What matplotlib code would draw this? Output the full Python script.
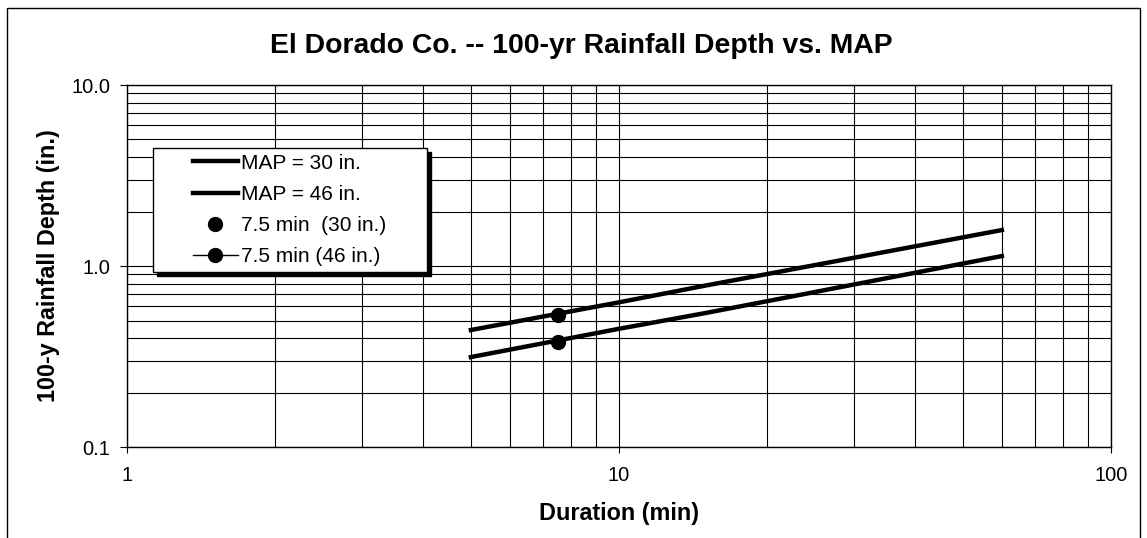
import matplotlib.pyplot as plt
from matplotlib.patches import Rectangle
from matplotlib.ticker import LogLocator, FixedLocator, NullFormatter

plt.rcParams['font.family'] = ['Liberation Sans', 'DejaVu Sans']

# data
duration = [5, 10, 15, 30, 60]
depth_30 = [0.314, 0.45, 0.55, 0.79, 1.135]
depth_46 = [0.443, 0.63, 0.78, 1.11, 1.58]
pt_dur = [7.5]
pt_30 = [0.38]
pt_46 = [0.536]

fig = plt.figure(figsize=(11.47, 5.38), dpi=100)
ax = fig.add_axes([0.1107, 0.1691, 0.8579, 0.6729])

ax.plot(duration, depth_30, color='black', lw=3.2, label='MAP = 30 in.')
ax.plot(duration, depth_46, color='black', lw=3.2, label='MAP = 46 in.')
ax.plot(pt_dur, pt_46, 'o', color='black', ms=10, label='7.5 min  (30 in.)')
ax.plot(pt_dur, pt_30, 'o-', color='black', ms=10, lw=1, label='7.5 min (46 in.)')

ax.set_xscale('log')
ax.set_yscale('log')
ax.set_xlim(1, 100)
ax.set_ylim(0.1, 10)

ax.xaxis.set_major_locator(FixedLocator([1, 10, 100]))
ax.yaxis.set_major_locator(FixedLocator([0.1, 1, 10]))
ax.set_xticklabels(['1', '10', '100'])
ax.set_yticklabels(['0.1', '1.0', '10.0'])
ax.xaxis.set_minor_locator(LogLocator(base=10, subs=range(2, 10)))
ax.yaxis.set_minor_locator(LogLocator(base=10, subs=range(2, 10)))
ax.xaxis.set_minor_formatter(NullFormatter())
ax.yaxis.set_minor_formatter(NullFormatter())

ax.grid(True, which='both', color='black', lw=0.8)
ax.tick_params(which='both', length=0, labelsize=14.5)
ax.tick_params(axis='x', which='major', length=4, direction='out', pad=10)
ax.tick_params(axis='y', which='major', length=5, direction='out', pad=7)
for s in ax.spines.values():
    s.set_linewidth(1)

ax.set_title('El Dorado Co. -- 100-yr Rainfall Depth vs. MAP',
             fontsize=20.4, fontweight='bold', pad=23, x=0.462)
ax.set_xlabel('Duration (min)', fontsize=16.8, fontweight='bold', labelpad=12)
ax.set_ylabel('100-y Rainfall Depth (in.)', fontsize=16.8, fontweight='bold', labelpad=8)

# legend box with a drop shadow, drawn separately for its wide padding
ax.add_patch(Rectangle((0.0305, 0.472), 0.2785, 0.343, transform=ax.transAxes,
                       facecolor='black', edgecolor='black', zorder=4.8))
ax.add_patch(Rectangle((0.0264, 0.4834), 0.2785, 0.3426, transform=ax.transAxes,
                       facecolor='white', edgecolor='black', lw=1, zorder=4.9))
leg = ax.legend(loc='upper left', bbox_to_anchor=(0.0671, 0.8105), borderaxespad=0,
                fontsize=15, frameon=False, handlelength=2.15, handletextpad=0.15,
                labelspacing=0.59, borderpad=0)
leg.set_zorder(5)

fig.patches.append(Rectangle((0.0065, -0.05), 0.9875, 1.0352, transform=fig.transFigure,
                             fill=False, edgecolor='black', lw=1))

fig.savefig('out.png', dpi=100)
